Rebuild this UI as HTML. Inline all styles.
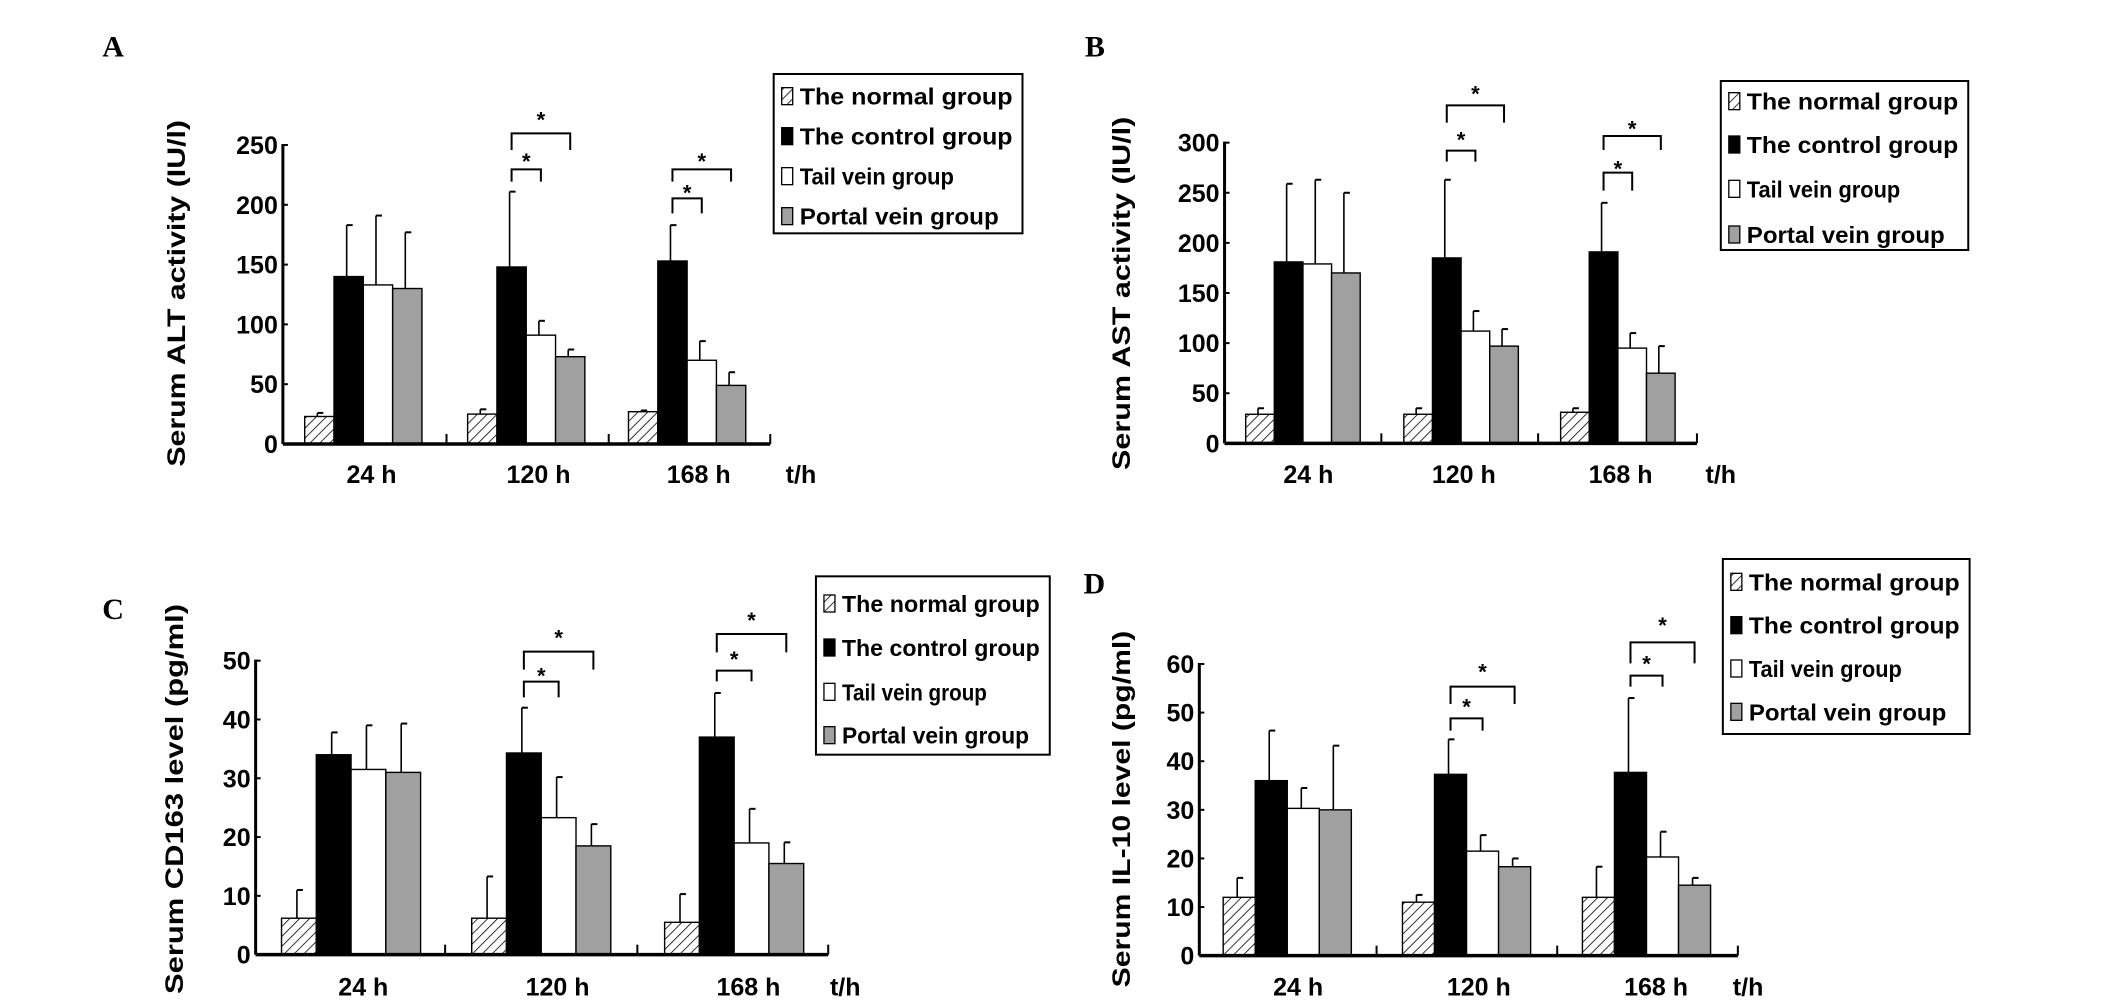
<!DOCTYPE html>
<html><head><meta charset="utf-8"><style>
html,body{margin:0;padding:0;background:#fff;}
svg{display:block;}
text{font-family:"Liberation Sans",Arial,sans-serif;font-weight:bold;fill:#000;}
</style></head><body>
<svg id="fig" xmlns="http://www.w3.org/2000/svg" width="2126" height="1008" viewBox="0 0 2126 1008">
<defs>
<pattern id="hatch" patternUnits="userSpaceOnUse" width="7" height="7" patternTransform="rotate(45)">
<rect width="7" height="7" fill="#fff"/><line x1="0" y1="0" x2="0" y2="7" stroke="#000" stroke-width="1.6"/>
</pattern>
</defs>
</svg>
<script>
// ---- data ----
const groups = ["24 h","120 h","168 h"];
const seriesNames = ["The normal group","The control group","Tail vein group","Portal vein group"];
// Panel A: ALT (IU/l)
const altNormal=[23,25,27], altControl=[140,148,153], altTail=[133,91,70], altPortal=[130,73,49];
const altNormalErr=[26,29,28], altControlErr=[183,211,183], altTailErr=[191,103,86], altPortalErr=[177,79,60];
const altTicks=[0,50,100,150,200,250];
// Panel B: AST (IU/l)
const astNormal=[29,29,31], astControl=[181,185,191], astTail=[179,112,95], astPortal=[170,97,70];
const astNormalErr=[35,35,35], astControlErr=[259,263,240], astTailErr=[263,132,110], astPortalErr=[250,114,97];
const astTicks=[0,50,100,150,200,250,300];
// Panel C: CD163 (pg/ml)
const cdNormal=[6.2,6.2,5.5], cdControl=[34,34.3,37], cdTail=[31.5,23.3,19], cdPortal=[31,18.5,15.5];
const cdNormalErr=[11,13.3,10.3], cdControlErr=[37.8,42,44.5], cdTailErr=[39,30.2,24.8], cdPortalErr=[39.3,22.2,19.1];
const cdTicks=[0,10,20,30,40,50];
// Panel D: IL-10 (pg/ml)
const ilNormal=[12,11,12], ilControl=[36,37.3,37.7], ilTail=[30.3,21.5,20.3], ilPortal=[30,18.3,14.5];
const ilNormalErr=[16,12.5,18.3], ilControlErr=[46.3,44.5,53], ilTailErr=[34.5,24.8,25.5], ilPortalErr=[43.2,20,16];
const ilTicks=[0,10,20,30,40,50,60];

const fills=["url(#hatch)","#000","#fff","#a0a0a0"];
const svg=document.getElementById('fig');
const NS="http://www.w3.org/2000/svg";
function el(tag,attrs,parent){const e=document.createElementNS(NS,tag);for(const k in attrs)e.setAttribute(k,attrs[k]);(parent||svg).appendChild(e);return e;}

// layout (measured in zoom-crop coordinates: x/1.467, y/3 from crop origin)
const panels=[
 {id:'a',letter:'A',ox:0,oy:0,axisX:415,yTop:435,yBot:1332,xEnd:1130,seps:[655,893],starts:[447,686,922],bw:43,
  means:[altNormal,altControl,altTail,altPortal],errs:[altNormalErr,altControlErr,altTailErr,altPortalErr],ticks:altTicks,
  title:'Serum ALT activity (IU/l)',titleX:258,titleY0:360,titleY1:1400,letterX:150,letterY:170,
  xlabY:1425,xlabX:[545,790,1025],thX:1175,legend:[1135,222,1500,700],legItems:[290,410,530,650],
  br:[[1,508,545,465,400,450,340],[2,595,640,560,508,545,465]]},
 {id:'b',letter:'B',ox:1063,oy:0,axisX:237,yTop:428,yBot:1330,xEnd:930,seps:[467,697],starts:[268,500,730],bw:42,
  means:[astNormal,astControl,astTail,astPortal],errs:[astNormalErr,astControlErr,astTailErr,astPortalErr],ticks:astTicks,
  title:'Serum AST activity (IU/l)',titleX:85,titleY0:350,titleY1:1410,letterX:32,letterY:170,
  xlabY:1425,xlabX:[360,588,818],thX:965,legend:[965,243,1328,750],legItems:[305,435,568,705],
  br:[[1,452,485,400,316,368,262],[2,518,572,488,408,450,368]]},
 {id:'c',letter:'C',ox:0,oy:504,axisX:375,yTop:470,yBot:1352,xEnd:1215,seps:[653,935],starts:[413,692,975],bw:51,
  means:[cdNormal,cdControl,cdTail,cdPortal],errs:[cdNormalErr,cdControlErr,cdTailErr,cdPortalErr],ticks:cdTicks,
  title:'Serum CD163 level (pg/ml)',titleX:255,titleY0:300,titleY1:1470,letterX:150,letterY:345,
  xlabY:1450,xlabX:[533,818,1098],thX:1240,legend:[1197,217,1540,752],legItems:[300,432,565,695],
  br:[[1,533,580,497,443,497,383],[2,500,532,447,390,445,330]]},
 {id:'d',letter:'D',ox:1063,oy:504,axisX:200,yTop:480,yBot:1355,xEnd:990,seps:[460,725],starts:[235,498,762],bw:47,
  means:[ilNormal,ilControl,ilTail,ilPortal],errs:[ilNormalErr,ilControlErr,ilTailErr,ilPortalErr],ticks:ilTicks,
  title:'Serum IL-10 level (pg/ml)',titleX:85,titleY0:380,titleY1:1450,letterX:30,letterY:268,
  xlabY:1450,xlabX:[345,610,870],thX:1005,legend:[968,165,1330,690],legItems:[235,365,495,625],
  br:[[1,643,680,590,548,600,485],[2,515,548,460,415,478,345]]}
];

panels.forEach(p=>{
  const X=z=>p.ox+z/1.467, Y=z=>p.oy+z/3;
  const vmax=p.ticks[p.ticks.length-1];
  const y0=Y(p.yBot), yT=Y(p.yTop);
  const yScale=v=>y0-(v/vmax)*(y0-yT);
  const g=el('g',{});
  
  
  const L=el('text',{x:X(p.letterX),y:Y(p.letterY),'font-size':30,'font-family':'Liberation Serif'},g);
  L.setAttribute('style','font-family:"Liberation Serif",serif');
  L.textContent=p.letter;
  
  
  // bars
  const bw=p.bw/1.467;
  p.means.forEach((ser,si)=>{
    ser.forEach((v,gi)=>{
      const x=X(p.starts[gi])+si*bw, yt=yScale(v), cx=x+bw/2-2;
      const ey=yScale(p.errs[si][gi]);
      const e1=el('line',{x1:cx,y1:yt,x2:cx,y2:ey,stroke:'#000','stroke-width':1.6},g);
      
      
      const e2=el('line',{x1:cx,y1:ey,x2:cx+6,y2:ey,stroke:'#000','stroke-width':2},g);
      
      
      const r=el('rect',{x:x,y:yt,width:bw,height:y0-yt,fill:fills[si],stroke:'#000','stroke-width':1.4},g);
      
      
    });
  });
  // axes
  const ya=el('line',{x1:X(p.axisX),y1:yT-1,x2:X(p.axisX),y2:y0,stroke:'#000','stroke-width':3},g);
  
  
  const xa=el('line',{x1:X(p.axisX),y1:y0,x2:X(p.xEnd),y2:y0,stroke:'#000','stroke-width':3.5},g);
  
  
  [...p.seps,p.xEnd].forEach(s=>{
    const t=el('line',{x1:X(s),y1:y0-10,x2:X(s),y2:y0,stroke:'#000','stroke-width':2},g);
    
    
  });
  p.ticks.forEach(v=>{
    const yy=yScale(v);
    const t=el('line',{x1:X(p.axisX),y1:yy,x2:X(p.axisX)+5,y2:yy,stroke:'#000','stroke-width':2},g);
    
    
    const lab=el('text',{x:X(p.axisX)-5,y:yy+9,'font-size':25,'text-anchor':'end'},g);
    lab.textContent=v;
    
    
  });
  // axis title
  const ty=(Y(p.titleY0)+Y(p.titleY1))/2, tx=X(p.titleX)+9;
  const tt=el('text',{x:tx,y:ty,'font-size':25,'text-anchor':'middle',transform:`rotate(-90 ${tx} ${ty})`,textLength:Y(p.titleY1)-Y(p.titleY0),lengthAdjust:'spacingAndGlyphs'},g);
  tt.textContent=p.title;
  
  
  groups.forEach((gname,gi)=>{
    const t=el('text',{x:X(p.xlabX[gi]),y:Y(p.xlabY)+8,'font-size':25,'text-anchor':'middle'},g);
    t.textContent=gname;
    
    
  });
  const th=el('text',{x:X(p.thX),y:Y(p.xlabY)+8,'font-size':25,'text-anchor':'middle'},g);
  th.textContent='t/h';
  
  
  // brackets
  p.br.forEach(b=>{
    const gi=b[0];
    const base=X(p.starts[gi]);
    const cC=base+1.5*bw, cT=base+2.5*bw, cP=base+3.5*bw;
    [[cT,b[1],b[2],b[3]],[cP,b[4],b[5],b[6]]].forEach(q=>{
      const pl=el('polyline',{points:`${cC},${Y(q[2])} ${cC},${Y(q[1])} ${q[0]},${Y(q[1])} ${q[0]},${Y(q[2])}`,fill:'none',stroke:'#000','stroke-width':2},g);
      
      
      const st=el('text',{x:(cC+q[0])/2,y:Y(q[3])+14,'font-size':22,'text-anchor':'middle'},g);
      st.textContent='*';
      
      
    });
  });
  // legend
  const lb=p.legend;
  const box=el('rect',{x:X(lb[0]),y:Y(lb[1]),width:X(lb[2])-X(lb[0]),height:Y(lb[3])-Y(lb[1]),fill:'#fff',stroke:'#000','stroke-width':2},g);
  
  
  const bwid=X(lb[2])-X(lb[0]);
  seriesNames.forEach((n,si)=>{
    const iy=Y(p.legItems[si]);
    const sw=el('rect',{x:X(lb[0])+8,y:iy-9,width:11,height:17,fill:fills[si],stroke:'#000','stroke-width':1.3},g);
    
    
    const t=el('text',{x:X(lb[0])+26,y:iy+8,'font-size':23,textLength:(si<2?bwid-36:(si==2?bwid*0.62:bwid*0.8)),lengthAdjust:'spacingAndGlyphs'},g);
    t.textContent=n;
    
    
  });
});
</script>
</body></html>
